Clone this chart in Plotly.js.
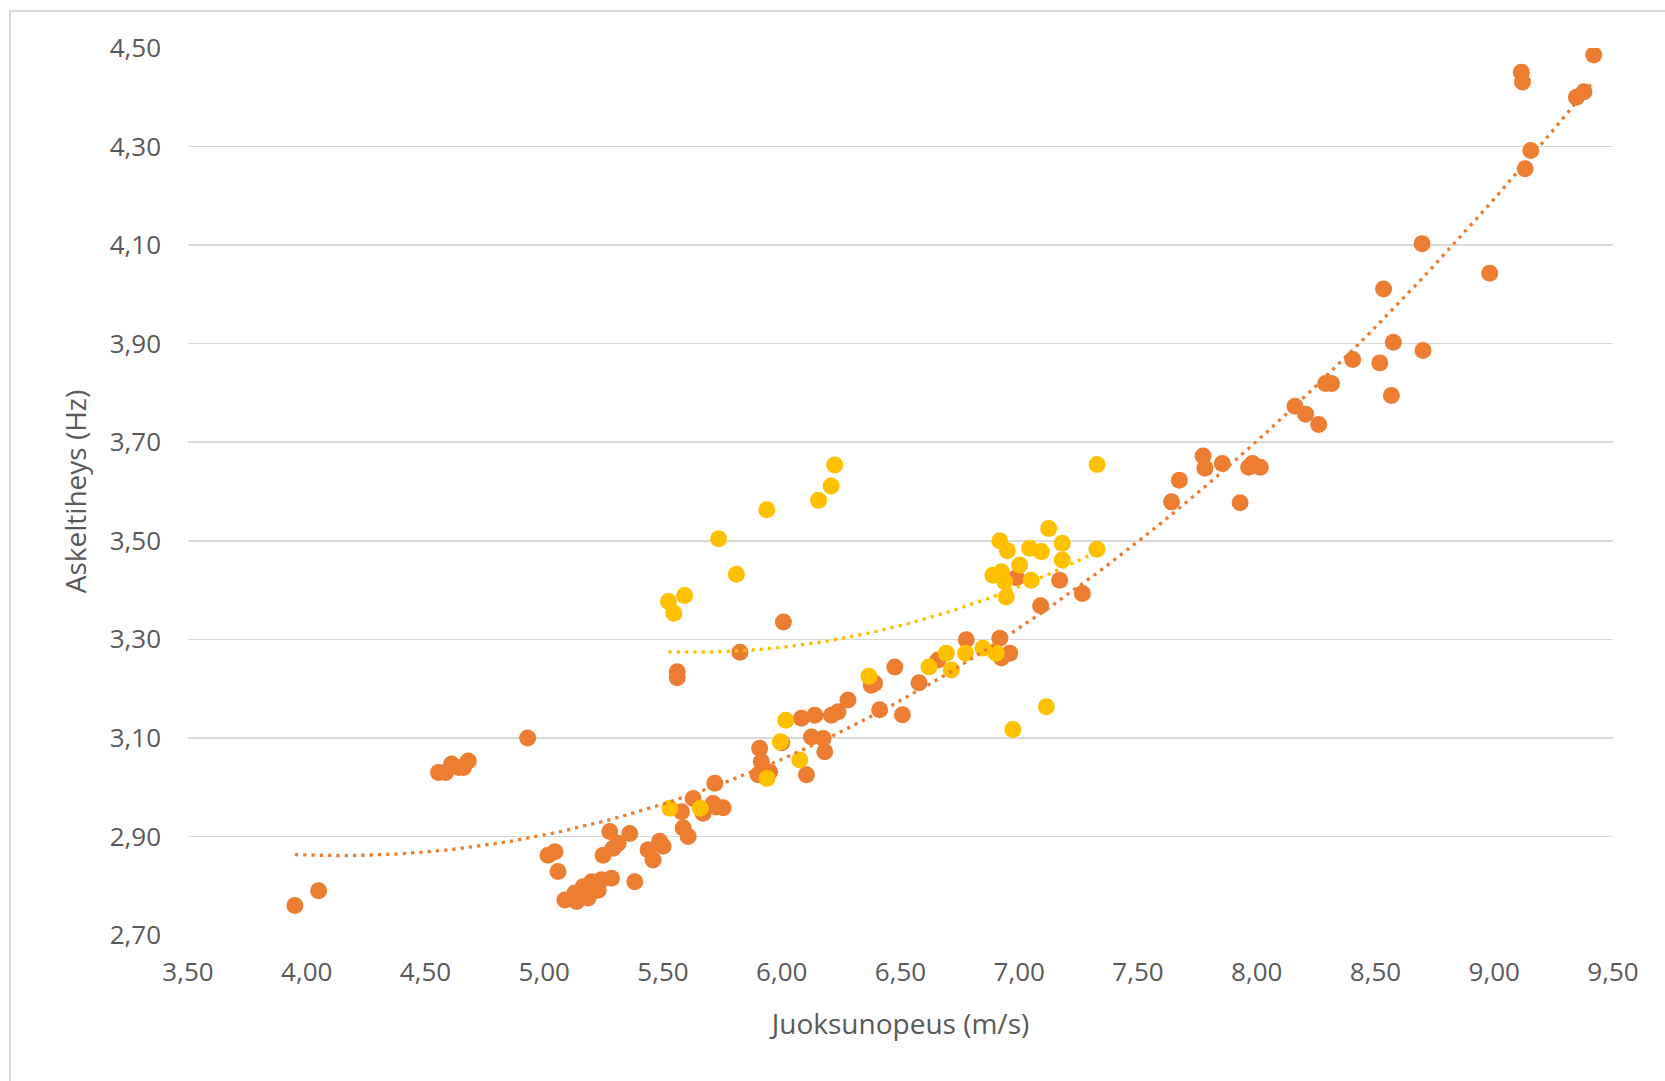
<!DOCTYPE html>
<html>
<head>
<meta charset="utf-8">
<script src="https://cdn.plot.ly/plotly-3.0.1.min.js"></script>
<style>
  html, body { margin: 0; padding: 0; background: #ffffff; overflow: hidden; }
  #chart { width: 1665px; height: 1081px; }
  #frame { position: absolute; left: 9px; top: 10px; width: 1700px; height: 1100px;
           border: 2px solid #d9d9d9; pointer-events: none; }
</style>
</head>
<body>
<div id="chart"></div>
<div id="frame"></div>
<script>
// Series 1 (orange): running speed (m/s) and step frequency (Hz)
const speedOrange = [
  3.95, 4.05, 4.555, 4.585, 4.61, 4.64, 4.66, 4.68, 4.93,
  5.016, 5.045, 5.058, 5.087, 5.129, 5.136, 5.164, 5.185, 5.199, 5.227, 5.241, 5.283, 5.381,
  5.248, 5.276, 5.29, 5.311, 5.36, 5.437, 5.458, 5.486, 5.50, 5.585, 5.606, 5.578, 5.627,
  5.669, 5.725, 5.718, 5.711, 5.753, 5.56, 5.56, 5.824, 6.007,
  5.907, 5.914, 5.90, 5.949, 6.0, 6.083, 6.125, 6.104, 6.139, 6.174, 6.181, 6.209, 6.237, 6.279,
  6.377, 6.391, 6.412, 6.476, 6.508, 6.578, 6.658, 6.777, 6.918, 6.925, 6.96,
  6.988, 7.09, 7.17, 7.266,
  7.641, 7.674, 7.774, 7.782, 7.855, 7.93, 7.966, 7.982, 8.015,
  8.161, 8.206, 8.261, 8.29, 8.315, 8.404, 8.518, 8.567, 8.575, 8.534, 8.70, 8.696, 8.981,
  9.13, 9.154, 9.114, 9.119, 9.346, 9.378, 9.419
];
const freqOrange = [
  2.76, 2.79, 3.03, 3.03, 3.047, 3.04, 3.04, 3.053, 3.10,
  2.862, 2.869, 2.829, 2.771, 2.785, 2.768, 2.798, 2.775, 2.808, 2.791, 2.812, 2.815, 2.808,
  2.862, 2.910, 2.876, 2.886, 2.906, 2.873, 2.852, 2.89, 2.88, 2.917, 2.90, 2.95, 2.977,
  2.947, 2.96, 3.008, 2.967, 2.958, 3.234, 3.222, 3.274, 3.335,
  3.079, 3.052, 3.025, 3.031, 3.09, 3.140, 3.102, 3.025, 3.146, 3.099, 3.072, 3.146, 3.153, 3.177,
  3.207, 3.211, 3.157, 3.244, 3.147, 3.212, 3.258, 3.299, 3.302, 3.262, 3.272,
  3.425, 3.368, 3.42, 3.393,
  3.579, 3.623, 3.672, 3.647, 3.657, 3.577, 3.649, 3.657, 3.649,
  3.773, 3.757, 3.736, 3.819, 3.819, 3.868, 3.861, 3.795, 3.903, 4.011, 3.886, 4.103, 4.043,
  4.255, 4.292, 4.451, 4.431, 4.40, 4.411, 4.486
];

// Series 2 (yellow)
const speedYellow = [
  5.529, 5.657, 5.523, 5.546, 5.591, 5.734, 5.809, 5.937, 6.155, 6.208, 6.223,
  5.938, 5.994, 6.017, 6.076, 6.367, 6.62, 6.693, 6.714, 6.774, 6.847, 6.903,
  6.973, 7.114, 6.918, 6.95, 7.044, 7.093, 7.124, 7.181, 7.181, 7.327, 7.328,
  7.002, 6.889, 6.925, 6.939, 7.05, 6.945
];
const freqYellow = [
  2.957, 2.957, 3.377, 3.353, 3.389, 3.504, 3.432, 3.563, 3.582, 3.611, 3.654,
  3.018, 3.092, 3.136, 3.055, 3.225, 3.244, 3.272, 3.238, 3.272, 3.282, 3.272,
  3.117, 3.163, 3.50, 3.48, 3.485, 3.478, 3.525, 3.495, 3.461, 3.483, 3.655,
  3.451, 3.43, 3.437, 3.417, 3.42, 3.386
];

// Axis ticks
const xTickVals = [3.5, 4.0, 4.5, 5.0, 5.5, 6.0, 6.5, 7.0, 7.5, 8.0, 8.5, 9.0, 9.5];
const yTickVals = [2.7, 2.9, 3.1, 3.3, 3.5, 3.7, 3.9, 4.1, 4.3, 4.5];

const ORANGE = '#ED7D31';
const YELLOW = '#FFC000';

// Polynomial (order 2) least-squares trendline computed from the data
function quadFit(xs, ys) {
  let S = [0,0,0,0,0], T = [0,0,0];
  for (let i = 0; i < xs.length; i++) {
    const x = xs[i], y = ys[i];
    let p = 1;
    for (let k = 0; k < 5; k++) { S[k] += p; p *= x; }
    T[0] += y; T[1] += y * x; T[2] += y * x * x;
  }
  const A = [[S[0],S[1],S[2],T[0]],[S[1],S[2],S[3],T[1]],[S[2],S[3],S[4],T[2]]];
  for (let c = 0; c < 3; c++) {
    let piv = c;
    for (let r = c+1; r < 3; r++) if (Math.abs(A[r][c]) > Math.abs(A[piv][c])) piv = r;
    [A[c], A[piv]] = [A[piv], A[c]];
    for (let r = 0; r < 3; r++) {
      if (r === c) continue;
      const f = A[r][c] / A[c][c];
      for (let k = c; k < 4; k++) A[r][k] -= f * A[c][k];
    }
  }
  return [A[0][3]/A[0][0], A[1][3]/A[1][1], A[2][3]/A[2][2]];
}
function trend(xs, ys) {
  const c = quadFit(xs, ys);
  const lo = Math.min(...xs), hi = Math.max(...xs);
  const tx = [], ty = [];
  const n = 120;
  for (let i = 0; i <= n; i++) {
    const x = lo + (hi - lo) * i / n;
    tx.push(x); ty.push(c[0] + c[1]*x + c[2]*x*x);
  }
  return {x: tx, y: ty};
}
const tO = trend(speedOrange, freqOrange);
const tY = trend(speedYellow, freqYellow);

const FONT = '"Open Sans", "Noto Sans", sans-serif';

const data = [
  {x: speedOrange, y: freqOrange, type: 'scatter', mode: 'markers',
   marker: {color: ORANGE, size: 17, line: {width: 0}}, hoverinfo: 'x+y', showlegend: false},
  {x: speedYellow, y: freqYellow, type: 'scatter', mode: 'markers',
   marker: {color: YELLOW, size: 17, line: {width: 0}}, hoverinfo: 'x+y', showlegend: false},
  {x: tO.x, y: tO.y, type: 'scatter', mode: 'lines',
   line: {color: ORANGE, width: 3.3, dash: '3.3px,5px'}, hoverinfo: 'skip', showlegend: false},
  {x: tY.x, y: tY.y, type: 'scatter', mode: 'lines',
   line: {color: YELLOW, width: 3.3, dash: '3.3px,5px'}, hoverinfo: 'skip', showlegend: false}
];

const layout = {
  width: 1665, height: 1081,
  margin: {l: 188, r: 52, t: 48, b: 146, pad: 0},
  paper_bgcolor: '#ffffff', plot_bgcolor: '#ffffff',
  separators: ', ',
  font: {family: FONT, color: '#595959', size: 26},
  showlegend: false,
  xaxis: {
    range: [3.5, 9.5], tickvals: xTickVals, tickformat: '.2f',
    showgrid: false, zeroline: false, showline: false, ticks: '',
    ticklabelstandoff: 19,
    tickfont: {family: FONT, size: 26, color: '#595959'},
    title: {text: 'Juoksunopeus (m/s)', font: {family: FONT, size: 28, color: '#595959'}, standoff: 26},
    automargin: false
  },
  yaxis: {
    range: [2.7, 4.5], tickvals: yTickVals, tickformat: '.2f',
    showgrid: true, gridcolor: '#d9d9d9', gridwidth: 1.6,
    zeroline: false, showline: false, ticks: '',
    ticklabelstandoff: 26,
    tickfont: {family: FONT, size: 26, color: '#595959'},
    title: {text: 'Askeltiheys (Hz)', font: {family: FONT, size: 28, color: '#595959'}, standoff: 14},
    automargin: false
  }
};

Plotly.newPlot('chart', data, layout, {staticPlot: true, displayModeBar: false});
</script>
</body>
</html>
